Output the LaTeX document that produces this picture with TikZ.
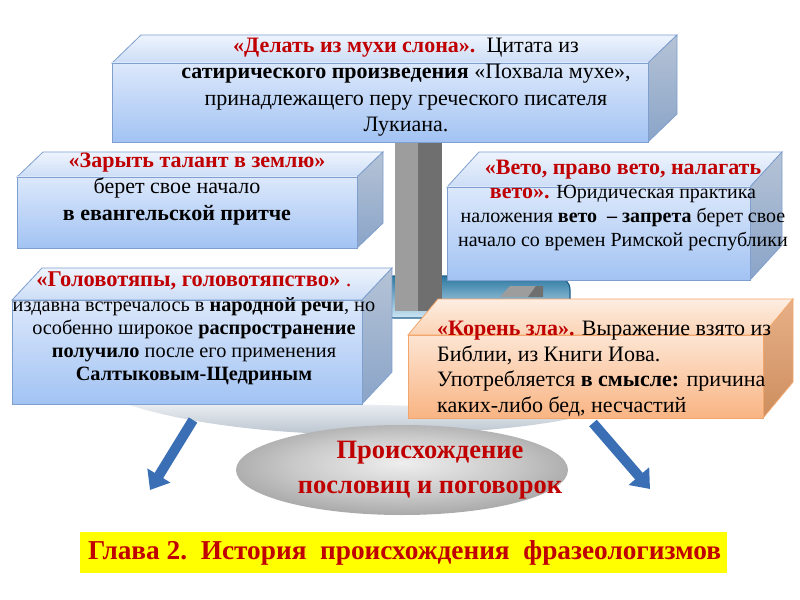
\documentclass[tikz,border=0pt]{standalone}
\usepackage{fontspec}
\setmainfont{Liberation Serif}
\usetikzlibrary{shapes.geometric,arrows.meta}
\definecolor{dred}{HTML}{C00000}
\definecolor{bfT}{HTML}{DCE8FB}
\definecolor{bfB}{HTML}{A2C3F3}
\definecolor{btT}{HTML}{EEF4FD}
\definecolor{btB}{HTML}{CCDDF6}
\definecolor{bsT}{HTML}{B5C3D6}
\definecolor{bsB}{HTML}{8AA4C8}
\definecolor{bedge}{HTML}{7F9FCE}
\definecolor{ofT}{HTML}{FDE5D3}
\definecolor{ofB}{HTML}{F9B483}
\definecolor{otT}{HTML}{FDEEE2}
\definecolor{otB}{HTML}{FBD3B5}
\definecolor{osT}{HTML}{E8B088}
\definecolor{osB}{HTML}{CC8E5E}
\definecolor{oedge}{HTML}{F2A66C}
\definecolor{arrblue}{HTML}{3A6FB5}
\definecolor{pilL}{HTML}{9D9D9D}
\definecolor{pilD}{HTML}{6F6F6F}
\definecolor{platT}{HTML}{2A77A0}
\definecolor{platB}{HTML}{CFE6F4}
\definecolor{platE}{HTML}{1F5F8A}
\definecolor{elA}{HTML}{EEEEEE}
\definecolor{elB}{HTML}{CACACA}
\definecolor{elC}{HTML}{8E8E8E}
\definecolor{elD}{HTML}{5E5E5E}
\definecolor{crT}{HTML}{F2F4F7}
\definecolor{crB}{HTML}{B6C1CC}
\definecolor{ybar}{HTML}{FFFF00}
\pgfdeclareradialshading{ellsh}{\pgfpoint{0bp}{4bp}}{color(0bp)=(elA); color(16bp)=(elB); color(36bp)=(elC); color(50bp)=(elD)}
\newcommand\tdbox[9]{%
  \path[#8] (#1,#2) -- (#1+#5,#2-#6) -- (#3+#5,#2-#6) -- (#3,#2) -- cycle;
  \path[#9] (#3,#2) -- (#3+#5,#2-#6) -- (#3+#5,#4-#6) -- (#3,#4) -- cycle;
  \path[#7] (#1,#2) rectangle (#3,#4);
}
\begin{document}
\begin{tikzpicture}[x=1bp,y=-1bp,
  bfront/.style={top color=bfT, bottom color=bfB, draw=bedge, line width=0.8bp},
  btopf/.style={top color=btT, bottom color=btB, draw=bedge, line width=0.8bp},
  bsidef/.style={top color=bsT, bottom color=bsB, draw=bedge, line width=0.8bp},
  ofront/.style={top color=ofT, bottom color=ofB, draw=oedge, line width=0.8bp},
  otopf/.style={top color=otT, bottom color=otB, draw=oedge, line width=0.8bp},
  osidef/.style={top color=osT, bottom color=osB, draw=oedge, line width=0.8bp},
  txt/.style={inner sep=0pt, text=black},
  bigarrow/.style={draw=arrblue, line width=10bp, -{Triangle[width=26bp,length=17bp]}},
]
\useasboundingbox (0,0) rectangle (800,600);
\fill[white] (0,0) rectangle (800,600);

% platform and pillar
\path[top color=platT, bottom color=platB, draw=platE, line width=1.2bp, rounded corners=14bp] (380,276) rectangle (570,318);
\fill[pilL] (395,140) rectangle (418,311);
\fill[pilD] (418,140) rectangle (442,311);
\fill[pilL] (500,297) -- (510,286) -- (536,286) -- (528,297) -- cycle;
\fill[pilD] (528,297) -- (536,286) -- (543,286) -- (543,297) -- cycle;

% crescent
\path[top color=crT, bottom color=crB] (113,399) -- (602,410) .. controls (560,426) and (450,437) .. (330,434) .. controls (240,431) and (160,418) .. cycle;

% arrows
\coordinate (la1) at (193,420);
\coordinate (la2) at (150,490);
\coordinate (ra1) at (593,423);
\coordinate (ra2) at (650,489);
\draw[bigarrow] (la1) -- (la2);
\draw[bigarrow] (ra1) -- (ra2);

% central ellipse
\node[ellipse, minimum width=332bp, minimum height=90bp, inner sep=0pt, shading=ellsh] (origin) at (402,470) {};
\node[txt, text=dred, align=center, font=\bfseries\fontsize{26.5bp}{35bp}\selectfont] (origintext) at (430,470)
  {Происхождение\\пословиц и поговорок};

% boxes
\tdbox{112}{63}{648}{142}{29}{28}{bfront}{btopf}{bsidef}
\tdbox{17}{177}{357}{248}{26}{25}{bfront}{btopf}{bsidef}
\tdbox{12}{300}{362}{404}{30}{32}{bfront}{btopf}{bsidef}
\tdbox{447}{187}{750}{280}{32}{35}{bfront}{btopf}{bsidef}
\tdbox{408}{335}{763}{418}{30}{36}{ofront}{otopf}{osidef}

% texts
\node[txt, align=center, font=\fontsize{22bp}{26.5bp}\selectfont] (ttop) at (406,87)
  {\textcolor{dred}{\textbf{«Делать из мухи слона».}}\ \ Цитата из\\
   \textbf{сатирического произведения} «Похвала мухе»,\\
   принадлежащего перу греческого писателя\\
   Лукиана.};

\node[txt, align=center, font=\fontsize{22bp}{26.5bp}\selectfont] (tzar) at (177,189)
  {\hspace*{40bp}\textcolor{dred}{\textbf{«Зарыть талант в землю»}}\\
   берет свое начало\\
   \textbf{в евангельской притче}};

\node[txt, align=center, font=\fontsize{20.3bp}{23bp}\selectfont] (tgol) at (194,328)
  {\textcolor{dred}{\fontsize{22.5bp}{26bp}\selectfont\textbf{«Головотяпы, головотяпство»} .}\\[2bp]
   издавна встречалось в \textbf{народной речи}, но\\
   особенно широкое \textbf{распространение}\\
   \textbf{получило} после его применения\\
   \textbf{Салтыковым-Щедриным}};

\node[txt, align=center, font=\fontsize{20bp}{24bp}\selectfont] (tveto) at (623,205)
  {\textcolor{dred}{\fontsize{22bp}{26bp}\selectfont\textbf{«Вето, право вето, налагать}}\\
   \textcolor{dred}{\fontsize{22bp}{26bp}\selectfont\textbf{вето».}} Юридическая практика\\
   наложения \textbf{вето\ \ – запрета} берет свое\\
   начало со времен Римской республики};

\node[txt, align=left, anchor=west, font=\fontsize{22bp}{25.5bp}\selectfont] (tkor) at (437,369)
  {\textcolor{dred}{\textbf{«Корень зла».}} Выражение взято из\\
   Библии, из Книги Иова.\\
   Употребляется \textbf{в смысле:} причина\\
   каких-либо бед, несчастий};

% chapter bar
\node[fill=ybar, anchor=north west, minimum width=647bp, minimum height=41bp, inner sep=0pt] (bar) at (80,532) {};
\node[txt, anchor=west, text=dred, font=\bfseries\fontsize{27.3bp}{32bp}\selectfont] (bartext) at (88,553)
  {Глава 2.\ \ История\ \ происхождения\ \ фразеологизмов};
\end{tikzpicture}
\end{document}
